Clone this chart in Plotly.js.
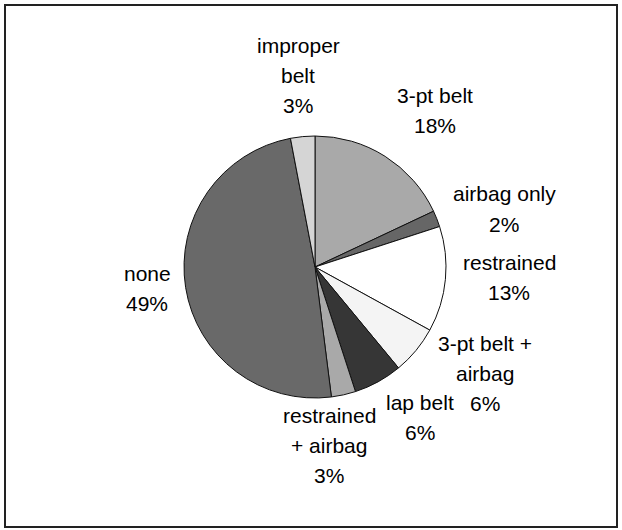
<!DOCTYPE html>
<html>
<head>
<meta charset="utf-8">
<script src="https://cdn.plot.ly/plotly-3.0.1.min.js"></script>
<style>html,body{margin:0;padding:0;background:#fff;}#chart{width:622px;height:530px;}</style>
</head>
<body>
<div id="chart"></div>
<script>
// Data
const categories = ["3-pt belt", "airbag only", "restrained", "3-pt belt + airbag", "lap belt", "restrained + airbag", "none", "improper belt"];
const labelLines = [["3-pt belt"], ["airbag only"], ["restrained"], ["3-pt belt +", "airbag"], ["lap belt"], ["restrained", "+ airbag"], ["none"], ["improper", "belt"]];
const percentValues = [18, 2, 13, 6, 6, 3, 49, 3];

// Styles / positions (kept separate from data)
const sliceColors = ["#a9a9a9", "#666666", "#ffffff", "#f4f4f4", "#363636", "#a9a9a9", "#696969", "#d5d5d5"];
const W = 622, H = 530;
const labelPos = [[435, 111], [504, 209], [509, 277], [485, 373], [420, 417], [329, 445], [147, 288], [298, 76]];
const lineGap = 30;

const annotations = [];
categories.forEach((c, i) => {
  const lines = labelLines[i].concat([percentValues[i] + "%"]);
  const n = lines.length;
  lines.forEach((t, k) => {
    const py = labelPos[i][1] + (k - (n - 1) / 2) * lineGap;
    annotations.push({
      xref: "paper", yref: "paper",
      x: labelPos[i][0] / W, y: 1 - py / H,
      xanchor: "center", yanchor: "middle",
      text: t, showarrow: false, align: "center",
      font: {family: "Liberation Sans, Arial, sans-serif", size: 21, color: "#000"}
    });
  });
});

const trace = {
  type: "pie",
  labels: categories,
  values: percentValues,
  sort: false,
  direction: "clockwise",
  rotation: 0,
  textinfo: "none",
  hoverinfo: "label+percent",
  marker: {colors: sliceColors, line: {color: "#111", width: 1}},
  domain: {x: [184 / W, 446 / W], y: [132 / H, 394 / H]},
  showlegend: false
};

const layout = {
  width: W, height: H,
  margin: {l: 0, r: 0, t: 0, b: 0},
  paper_bgcolor: "#ffffff",
  showlegend: false,
  annotations: annotations,
  shapes: [{
    type: "rect", xref: "paper", yref: "paper",
    x0: 5 / W, x1: 617 / W, y0: 1 - 527 / H, y1: 1 - 5 / H,
    line: {color: "#222", width: 2}
  }]
};

Plotly.newPlot("chart", [trace], layout, {staticPlot: true, displayModeBar: false});
</script>
</body>
</html>
